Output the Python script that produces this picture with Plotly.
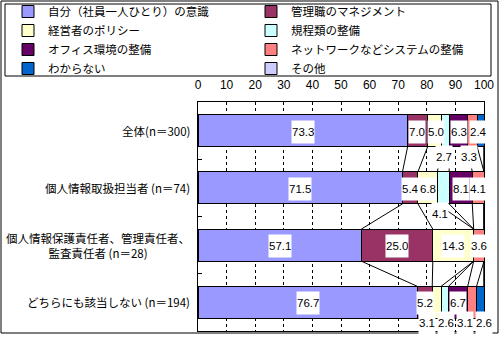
import plotly.graph_objects as go
import numpy as np

# ---------------- data ----------------
categories = [
    "全体(n＝300)",
    "個人情報取扱担当者 (n＝74)",
    "個人情報保護責任者、管理責任者、<br>監査責任者 (n＝28)",
    "どちらにも該当しない (n＝194)",
]
series_names = [
    "自分（社員一人ひとり）の意識",
    "管理職のマネジメント",
    "経営者のポリシー",
    "規程類の整備",
    "オフィス環境の整備",
    "ネットワークなどシステムの整備",
    "わからない",
    "その他",
]
jibun = [73.3, 71.5, 57.1, 76.7]
kanrishoku = [7.0, 5.4, 25.0, 5.2]
keieisha = [5.0, 6.8, 14.3, 3.1]
kiteirui = [2.7, 4.1, 0.0, 2.6]
office = [6.3, 8.1, 0.0, 6.7]
network = [3.3, 4.1, 3.6, 3.1]
wakaranai = [2.4, 0.0, 0.0, 2.6]
sonota = [0.0, 0.0, 0.0, 0.0]
x_ticks = [0, 10, 20, 30, 40, 50, 60, 70, 80, 90, 100]

series_values = [jibun, kanrishoku, keieisha, kiteirui, office, network, wakaranai, sonota]

# ---------------- styles ----------------
colors = ["#9999FF", "#993366", "#FFFFCC", "#CCFFFF", "#660066", "#FF8080", "#0066CC", "#CCCCFF"]
JP_FONT = "Noto Sans CJK JP, Noto Sans, sans-serif"
NUM_FONT = "Liberation Sans, Arial, sans-serif"
BAR_W = 0.56
W, H = 500, 337
ML, MR, MT, MB = 198, 16, 102, 6
PW, PH = W - ML - MR, H - MT - MB

def px_x(px):
    return (px - ML) / PW

def px_y(py):
    return (H - MB - py) / PH

# label placement offsets in pixels: (row, series) -> (xshift, yshift)
label_moves = {
    (0, 1): (-1, -1), (0, 2): (1, -1),
    (0, 3): (-2, -26), (0, 5): (-3, -26), (0, 6): (-2, -1),
    (1, 3): (-3, -26),
    (3, 2): (-10, -21), (3, 3): (1, -21), (3, 5): (-7, -21), (3, 6): (4, -21),
}

rows = list(range(len(categories)))
fig = go.Figure()

for k, (name, vals, col) in enumerate(zip(series_names, series_values, colors)):
    fig.add_trace(go.Bar(
        name=name, y=rows, x=vals, orientation="h", width=BAR_W,
        marker=dict(color=col, line=dict(color="black", width=1)),
        hoverinfo="skip", legend="legend" if k % 2 == 0 else "legend2",
    ))

vals_arr = np.array(series_values)  # series x rows
cum = np.cumsum(vals_arr, axis=0)

# series lines between bars
lx, ly = [], []
for i in range(len(rows) - 1):
    for s in range(len(series_names)):
        lx += [cum[s, i], cum[s, i + 1], None]
        ly += [rows[i] + BAR_W / 2, rows[i + 1] - BAR_W / 2, None]
fig.add_trace(go.Scatter(x=lx, y=ly, mode="lines", line=dict(color="black", width=1),
                         showlegend=False, hoverinfo="skip"))

annotations = []
for i in rows:
    for s in range(len(series_names)):
        v = vals_arr[s, i]
        if v <= 0:
            continue
        xs, ys = label_moves.get((i, s), (0, -1))
        annotations.append(dict(
            x=cum[s, i] - v / 2, y=rows[i], xref="x", yref="y",
            text=f"{v:.1f}", showarrow=False, bgcolor="white", borderpad=0,
            height=22, valign="middle",
            xshift=xs, yshift=ys, font=dict(size=11.5, color="black", family=NUM_FONT),
        ))
for i, c in zip(rows, categories):
    annotations.append(dict(
        x=0, y=i, xref="paper", yref="y", text=c, showarrow=False,
        xanchor="right", align="center", xshift=-6,
        font=dict(size=11.5, color="black", family=JP_FONT),
    ))

shapes = [
    dict(type="rect", xref="paper", yref="paper",
         x0=px_x(1), x1=px_x(498), y0=px_y(333), y1=px_y(1),
         line=dict(color="black", width=1), fillcolor="rgba(0,0,0,0)", layer="below"),
    dict(type="rect", xref="paper", yref="paper",
         x0=px_x(5), x1=px_x(491), y0=px_y(76), y1=px_y(4),
         line=dict(color="black", width=1), fillcolor="rgba(0,0,0,0)", layer="below"),
]

legend_common = dict(
    orientation="v", yanchor="top", xanchor="left", borderwidth=0,
    bgcolor="rgba(0,0,0,0)", font=dict(size=11.5, family=JP_FONT, color="black"),
    traceorder="normal",
)

fig.update_layout(
    width=W, height=H,
    margin=dict(l=ML, r=MR, t=MT, b=MB, autoexpand=False),
    paper_bgcolor="white", plot_bgcolor="white",
    barmode="stack",
    font=dict(family=JP_FONT, size=12, color="black"),
    showlegend=True,
    legend=dict(x=px_x(8), y=px_y(-3), **legend_common),
    legend2=dict(x=px_x(251), y=px_y(-3), **legend_common),
    xaxis=dict(
        side="top", range=[0, 100], tickvals=x_ticks, ticktext=[str(t) for t in x_ticks],
        showgrid=True, gridcolor="black", gridwidth=1, griddash="3px,3px",
        showline=True, linecolor="black", linewidth=1, mirror=True,
        ticks="outside", ticklen=7, tickcolor="rgba(0,0,0,0)",
        zeroline=False, fixedrange=True, tickfont=dict(size=12, family=NUM_FONT),
    ),
    yaxis=dict(
        range=[len(rows) - 0.5, -0.5], tickvals=[r + 0.5 for r in rows[:-1]],
        showticklabels=False, ticks="inside", ticklen=4, tickcolor="black",
        showgrid=False, zeroline=False, showline=True, linecolor="black",
        linewidth=1, mirror=True, fixedrange=True,
    ),
    annotations=annotations,
    shapes=shapes,
)

fig.write_html("out.html")
